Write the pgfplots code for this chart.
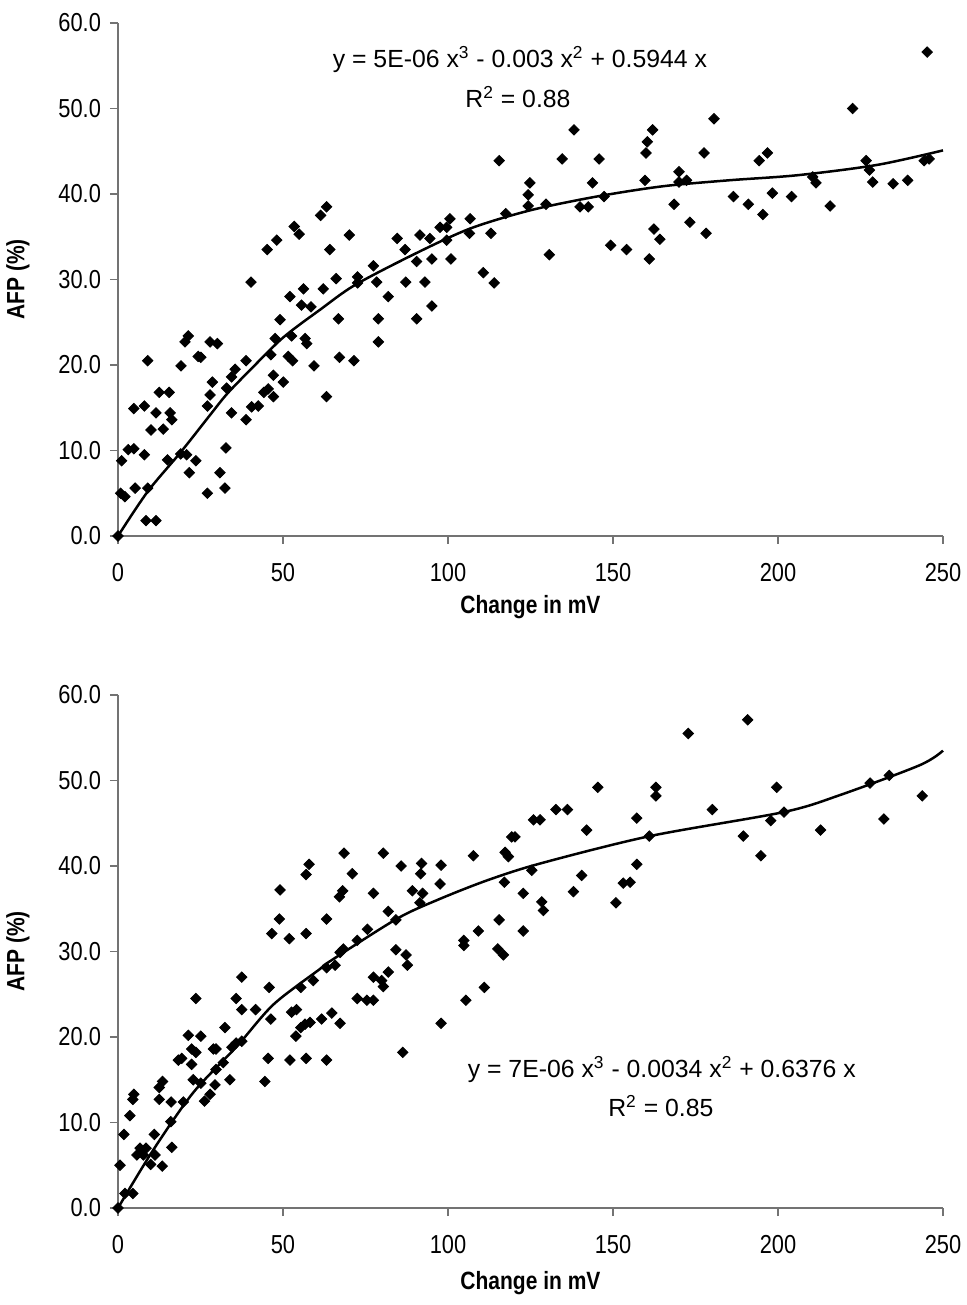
\documentclass[border=0pt]{standalone}
\usepackage{fontspec}
\setmainfont{Liberation Sans}[FakeStretch=0.84]
\newfontfamily\eqfont{Liberation Sans}
\usepackage{pgfplots}
\pgfplotsset{compat=1.18}

\pgfplotsset{
  afpaxis/.style={
    scale only axis,
    width=412.5pt, height=256.5pt,
    xmin=0, xmax=250, ymin=0, ymax=60,
    xtick={0,50,100,150,200,250},
    ytick={0,10,20,30,40,50,60},
    axis lines=left,
    axis line style={draw=gray!90!black, line width=0.8pt, -},
    tick style={draw=gray!90!black, line width=0.8pt},
    tick align=outside,
    major tick length=4pt,
    clip=false,
    font=\fontsize{13}{15}\selectfont,
    /pgf/number format/assume math mode=true,
    yticklabel style={/pgf/number format/fixed, /pgf/number format/fixed zerofill,
      /pgf/number format/precision=1, xshift=-1pt},
    xticklabel style={yshift=-6pt},
    xlabel={\fontsize{12.5}{15}\selectfont\bfseries Change in mV},
    ylabel={\fontsize{12.5}{15}\selectfont\bfseries AFP (\%)},
    ylabel style={at={(axis description cs:-0.1212,0.5)}, anchor=center},
  },
  dots/.style={only marks, mark=square*, mark size=1.85pt,
    mark options={rotate=45, fill=black, draw=black}},
  fit/.style={black, line width=1.25pt, no marks, smooth},
}
\tikzset{eqn/.style={font=\eqfont\fontsize{12.4}{15}\selectfont}}

\begin{document}
\begin{tikzpicture}
\path[use as bounding box] (-59pt,-384.5pt) rectangle (424.5pt,268pt);

% upper panel
\begin{axis}[afpaxis, at={(0,0)},
  xlabel style={at={(axis description cs:0.5,-0.1384)}, anchor=center}]
\addplot[dots] coordinates {
(0,0)(1.1,8.8)(0.8,5.0)(2.1,4.6)(3.1,10.1)(4.8,10.2)(4.8,14.9)(5.2,5.6)
(8.0,15.2)(8.0,9.5)(9.0,20.5)(9.0,5.6)(8.5,1.8)(11.5,1.8)(10.0,12.4)(11.5,14.4)
(12.5,16.8)(15.5,16.8)(13.7,12.5)(15.8,14.4)(16.3,13.6)(15.0,8.9)(19.0,9.6)(20.8,9.5)
(19.1,19.9)(20.3,22.7)(21.3,23.4)(21.6,7.4)(23.6,8.8)(24.3,21.0)(25.1,20.9)(27.1,5.0)
(27.1,15.2)(27.9,16.5)(28.6,18.0)(27.9,22.7)(30.1,22.5)(30.9,7.4)(32.4,5.6)(32.7,10.3)
(32.9,17.3)(34.4,14.4)(34.4,18.6)(35.5,19.5)(38.8,20.5)(38.8,13.6)(40.5,15.1)(42.5,15.2)
(40.3,29.7)(44.2,16.8)(45.5,17.2)(46.3,21.2)(47.1,18.8)(47.1,16.3)(47.6,23.1)(45.2,33.5)
(48.1,34.6)(49.1,25.3)(50.1,18.0)(52.1,28.0)(51.6,21.0)(52.9,20.5)(52.6,23.4)(53.4,36.2)
(54.9,35.3)(56.7,23.1)(57.2,22.5)(56.2,28.9)(55.6,27.0)(58.5,26.8)(59.4,19.9)(62.2,28.9)
(63.2,16.3)(61.4,37.5)(63.2,38.5)(64.2,33.5)(70.1,35.2)(66.1,30.1)(66.8,25.4)(67.1,20.9)
(71.5,20.5)(72.6,30.3)(72.6,29.6)(77.4,31.6)(78.4,29.7)(78.9,25.4)(78.9,22.7)(81.9,28.0)
(84.6,34.8)(87.0,33.5)(87.2,29.7)(90.5,32.1)(90.5,25.4)(91.5,35.2)(93.0,29.7)(94.5,34.8)
(95.1,32.4)(95.1,26.9)(97.6,36.1)(99.6,36.1)(100.6,37.1)(99.6,34.6)(100.9,32.4)(106.7,37.1)
(106.5,35.4)(110.7,30.8)(113.0,35.4)(114.0,29.6)(115.5,43.9)(117.5,37.7)(124.3,38.6)(124.3,39.9)
(124.8,41.3)(129.7,38.8)(130.7,32.9)(134.6,44.1)(138.2,47.5)(140.0,38.5)(142.5,38.5)(143.8,41.3)
(145.8,44.1)(147.3,39.7)(149.3,34.0)(154.1,33.5)(159.7,41.6)(160.0,44.8)(160.4,46.1)(162.0,47.5)
(161.0,32.4)(162.4,35.9)(164.2,34.7)(168.5,38.8)(170.0,42.6)(170.0,41.4)(172.3,41.6)(173.3,36.7)
(177.6,44.8)(178.2,35.4)(180.6,48.8)(186.5,39.7)(191.0,38.8)(194.3,43.9)(196.8,44.8)(195.4,37.6)
(198.3,40.1)(204.1,39.7)(210.5,42.0)(211.5,41.3)(215.8,38.6)(222.6,50.0)(226.7,43.9)(227.7,42.8)
(228.7,41.4)(234.9,41.2)(239.3,41.6)(244.3,43.9)(245.8,44.1)(245.2,56.6)
};
\addplot[fit] coordinates {
(0,0)(9,5.2)(19,9.8)(28,14.2)(33,16.6)(40,19.4)(50,23.2)(61,26.4)(72,29.4)
(91,33.2)(107,36.0)(125,38.1)(145,39.7)(165,40.9)(185,41.6)(206,42.2)(230,43.4)(250,45.1)
};
\node[eqn] at (axis cs:121.8,55.7) {y = 5E-06 x\textsuperscript{3} - 0.003 x\textsuperscript{2} + 0.5944 x};
\node[eqn] at (axis cs:121.2,51.3) {R\textsuperscript{2} = 0.88};
\end{axis}

% lower panel
\begin{axis}[afpaxis, at={(0,-336pt)},
  xlabel style={at={(axis description cs:0.5,-0.147)}, anchor=center}]
\addplot[dots] coordinates {
(0,0)(0.6,5.0)(1.8,8.6)(2.1,1.7)(4.5,1.7)(3.6,10.8)(4.5,12.7)(4.8,13.3)
(5.7,6.2)(6.7,7.0)(7.7,6.2)(8.5,7.0)(9.9,5.1)(11.0,8.6)(11.2,6.2)(12.5,12.7)
(12.5,14.1)(13.5,14.8)(13.4,4.9)(16.1,12.4)(16.0,10.1)(16.3,7.1)(18.3,17.3)(19.3,17.5)
(19.8,12.4)(21.3,20.2)(22.3,18.6)(23.6,18.2)(22.3,16.8)(22.8,15.0)(23.6,24.5)(25.1,20.1)
(25.1,14.6)(26.2,12.5)(27.9,13.3)(28.9,18.6)(29.7,18.6)(29.7,16.2)(29.4,14.4)(31.9,17.0)
(32.4,21.1)(33.9,15.0)(34.5,18.8)(35.8,19.3)(37.5,19.5)(35.8,24.5)(37.5,27.0)(37.5,23.2)
(41.7,23.2)(44.5,14.8)(45.5,17.5)(45.8,25.8)(46.3,22.1)(46.6,32.1)(48.9,33.8)(49.1,37.2)
(51.9,31.5)(52.1,17.3)(52.6,22.9)(54.1,23.2)(53.9,20.1)(55.4,21.1)(56.7,21.5)(58.2,21.7)
(55.4,25.8)(57.0,32.1)(57.0,39.0)(57.9,40.2)(57.0,17.5)(59.2,26.6)(61.7,22.1)(63.2,28.1)
(63.2,33.8)(63.2,17.3)(64.8,22.8)(67.3,21.6)(65.8,28.4)(67.3,29.9)(68.3,30.3)(68.5,41.5)
(67.1,36.4)(68.1,37.1)(71.0,39.1)(72.5,31.3)(72.5,24.5)(75.4,24.3)(77.4,24.3)(75.6,32.6)
(77.4,36.8)(77.4,27.0)(79.9,26.6)(80.4,25.9)(81.9,27.6)(80.4,41.5)(81.9,34.7)(84.2,30.2)
(84.2,33.7)(85.8,40.0)(86.3,18.2)(87.3,29.6)(87.7,28.4)(89.2,37.1)(91.7,39.1)(92.0,40.3)
(92.3,36.8)(91.5,35.7)(97.9,40.1)(97.6,37.9)(97.9,21.6)(104.8,31.3)(104.8,30.7)(105.4,24.3)
(107.7,41.2)(109.2,32.4)(111.0,25.8)(115.5,33.7)(115.1,30.3)(116.8,29.6)(117.3,41.6)(118.3,41.1)
(117.1,38.1)(119.3,43.4)(120.3,43.4)(122.8,36.8)(122.8,32.4)(125.4,39.5)(125.9,45.4)(127.9,45.4)
(128.4,35.8)(128.9,34.8)(132.7,46.6)(136.2,46.6)(138.0,37.0)(140.5,38.9)(142.0,44.2)(145.4,49.2)
(150.9,35.7)(153.1,38.0)(155.2,38.1)(157.2,45.6)(157.2,40.2)(161.0,43.5)(163.0,49.2)(163.0,48.2)
(172.8,55.5)(180.1,46.6)(189.5,43.5)(190.8,57.1)(194.8,41.2)(197.8,45.3)(199.6,49.2)(201.8,46.3)
(212.9,44.2)(227.9,49.7)(232.1,45.5)(233.7,50.6)(243.7,48.2)
};
\addplot[fit] coordinates {
(0,0)(10.7,6.8)(22.8,13.5)(36,18.9)(47.1,23.8)(61,27.9)(64,28.8)(84.4,33.8)(96.6,36.0)
(111.7,38.3)(128,40.3)(161.2,43.5)(201.6,46.3)(218.8,48.3)(243,51.8)(250,53.5)
};
\node[eqn] at (axis cs:164.8,16.2) {y = 7E-06 x\textsuperscript{3} - 0.0034 x\textsuperscript{2} + 0.6376 x};
\node[eqn] at (axis cs:164.5,11.9) {R\textsuperscript{2} = 0.85};
\end{axis}
\end{tikzpicture}
\end{document}
